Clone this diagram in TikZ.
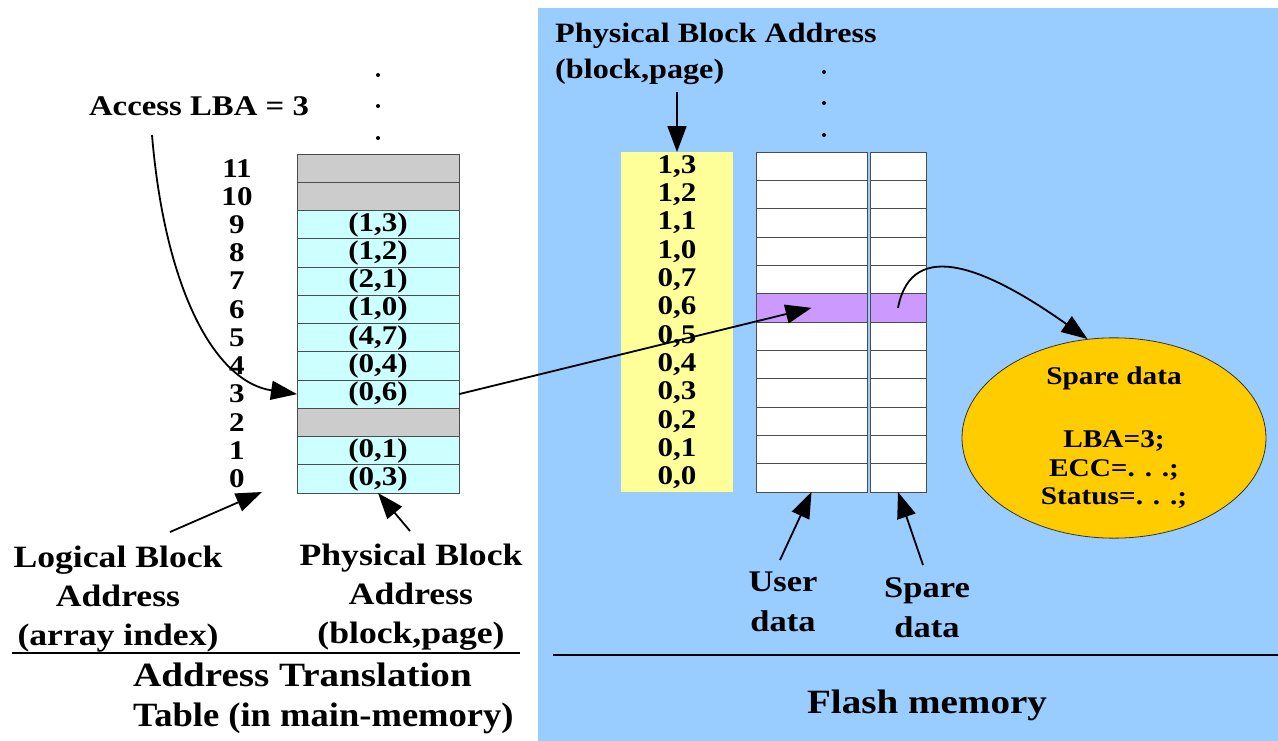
\documentclass[tikz,border=0pt]{standalone}
\usepackage{fontspec}
\setmainfont{Liberation Serif}[FakeStretch=1.15]
\usetikzlibrary{arrows.meta,shapes.geometric}

\definecolor{flashblue}{HTML}{99CCFF}
\definecolor{mapcyan}{HTML}{CCFFFF}
\definecolor{unused}{HTML}{CCCCCC}
\definecolor{addryellow}{HTML}{FFFF99}
\definecolor{pagepurple}{HTML}{CC99FF}
\definecolor{sparegold}{HTML}{FFCC00}

\newcommand\bfsz[2]{\fontsize{#1}{#2}\selectfont\bfseries}

\begin{document}
\begin{tikzpicture}[x=1pt,y=-1pt,
  cell/.style={draw=black!70,line width=0.9pt,inner sep=0pt,outer sep=0pt},
  lcell/.style={cell,minimum width=162pt,minimum height=28.25pt,font=\bfsz{27}{28}},
  ucell/.style={cell,minimum width=111pt,minimum height=28.33pt},
  scell/.style={cell,minimum width=56pt,minimum height=28.33pt},
  ycell/.style={fill=addryellow,inner sep=0pt,outer sep=0pt,minimum width=112pt,minimum height=28.33pt,font=\bfsz{27}{28}},
  idx/.style={inner sep=0pt,font=\bfsz{27}{28}},
  arr/.style={line width=1.8pt,-{Triangle[length=26pt,width=19pt]}},
  dot/.style={circle,fill=black,inner sep=0pt,minimum size=4pt},
  rule/.style={line width=1.5pt},
]
\useasboundingbox (0,0) rectangle (1278,741);
\fill[white] (0,0) rectangle (1278,741);
% flash memory area
\fill[flashblue] (538,8) rectangle (1278,741);

% address translation table
\foreach \i/\t/\c in {0/{(0,3)}/mapcyan,1/{(0,1)}/mapcyan,2/{}/unused,3/{(0,6)}/mapcyan,
    4/{(0,4)}/mapcyan,5/{(4,7)}/mapcyan,6/{(1,0)}/mapcyan,7/{(2,1)}/mapcyan,
    8/{(1,2)}/mapcyan,9/{(1,3)}/mapcyan,10/{}/unused,11/{}/unused}{
  \pgfmathsetmacro\yy{493-28.25*(\i+0.5)}
  \node[lcell,fill=\c] (m\i) at (378,\yy) {\t};
  \node[idx] (n\i) at (237,\yy) {\i};
}
\node[dot] (ld1) at (378,75) {};
\node[dot] (ld2) at (378,106) {};
\node[dot] (ld3) at (378,138) {};

% flash pages: address column, user data, spare data
\foreach \i in {0,...,11}{
  \pgfmathsetmacro\yy{492-28.33*(\i+0.5)}
  \pgfmathtruncatemacro\blk{\i<8?0:1}
  \pgfmathtruncatemacro\pg{\i<8?\i:\i-8}
  \ifnum\i=6 \def\fc{pagepurple}\else\def\fc{white}\fi
  \node[ycell] (y\i) at (677,\yy) {\blk,\pg};
  \node[ucell,fill=\fc] (u\i) at (811.5,\yy) {};
  \node[scell,fill=\fc] (s\i) at (898,\yy) {};
}
\node[dot] (rd1) at (824,72) {};
\node[dot] (rd2) at (824,103) {};
\node[dot] (rd3) at (824,135) {};

% texts
\node[inner sep=0pt,font=\bfsz{28.5}{30}] (acc) at (199,106) {Access LBA = 3};
\node[inner sep=0pt,font=\bfsz{31}{39},align=center] (lbaLbl) at (118,599) {Logical Block\\Address\\(array index)};
\node[inner sep=0pt,font=\bfsz{31}{39},align=center] (pbaLbl) at (411,597) {Physical Block\\Address\\(block,page)};
\node[inner sep=0pt,font=\bfsz{34}{40},align=left,anchor=west] (attLbl) at (133,698)
  {Address Translation\\\scalebox{0.935}[1]{Table (in main-memory)}};
\node[inner sep=0pt,font=\bfsz{28}{36},align=left,anchor=west] (pbaTop) at (555,54) {Physical Block Address\\(block,page)};
\node[inner sep=0pt,font=\bfsz{30}{40},align=center] (udLbl) at (783,602) {User\\data};
\node[inner sep=0pt,font=\bfsz{30}{40},align=center] (sdLbl) at (927,608) {Spare\\data};
\node[inner sep=0pt,font=\bfsz{34}{40}] (fm) at (927,705) {Flash memory};

\node[ellipse,draw=black!80,line width=0.8pt,fill=sparegold,minimum width=304pt,minimum height=181pt,
  inner sep=0pt,align=center,font=\bfsz{25.5}{28.5}] (sd) at (1114,438)
  {Spare data\\[34.5pt]LBA=3;\\ECC=. . .;\\Status=. . .;};

% rules
\draw[rule] (12,653) -- (520,653);
\draw[rule] (553,655) -- (1278,655);

% connectors
\coordinate (accTail) at (152,135);
\coordinate (lbaTail) at (170,532);
\coordinate (lbaTip) at (262,492);
\coordinate (pbaTail) at (410,531);
\coordinate (topTail) at (677,92);
\coordinate (udTail) at (780,560);
\coordinate (sdTail) at (923,565);

\draw[arr] (accTail) .. controls (165,290) and (215,382) .. (m3.west);
\draw[arr] (m3.east) -- (u6.center);
\draw[arr] (lbaTail) -- (lbaTip);
\draw[arr] (pbaTail) -- (m0.south);
\draw[arr] (topTail) -- (y11.north);
\draw[arr] (udTail) -- (u0.south);
\draw[arr] (sdTail) -- (s0.south);
\draw[arr] (s6.center) .. controls (912,235) and (990,270) .. (sd.105);
\end{tikzpicture}
\end{document}
